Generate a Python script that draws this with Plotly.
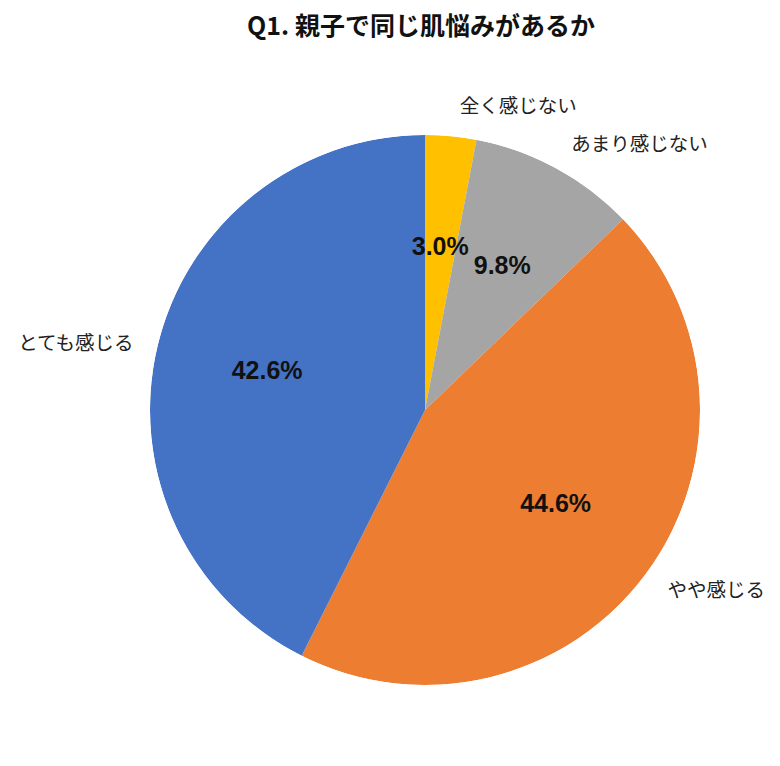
import plotly.graph_objects as go

labels = ["全く感じない", "あまり感じない", "やや感じる", "とても感じる"]
values = [3.0, 9.8, 44.6, 42.6]
colors = ["#FFC000", "#A5A5A5", "#ED7D31", "#4472C4"]
pct_text = [f"{v:.1f}%" for v in values]

W, H = 780, 766
OFF = 8  # page body margin
cx, cy, r = 425 - OFF, 410 - OFF, 275
rl = 292

def dom(rad):
    return dict(x=[(cx - rad) / W, (cx + rad) / W],
                y=[(H - cy - rad) / H, (H - cy + rad) / H])

# angular mid-points and widths of slices (degrees, clockwise from top), derived from values
total = sum(values)
widths = [v / total * 360 for v in values]
mids = []
acc = 0.0
for w in widths:
    mids.append(acc + w / 2)
    acc += w

fig = go.Figure()
# pie slices drawn as polar wedges
fig.add_trace(go.Barpolar(
    r=[1] * len(values), theta=mids, width=widths, base=0,
    marker=dict(color=colors, line=dict(width=0)),
    text=labels, hovertemplate="%{text}<extra></extra>", showlegend=False,
))
# percentage labels
fig.add_trace(go.Scatterpolar(
    r=[0.59] * len(values), theta=mids, mode="text", text=pct_text,
    textposition="middle center",
    textfont=dict(size=25, color="#111111", family="Liberation Sans, Arial, sans-serif", weight="bold"),
    showlegend=False, hoverinfo="skip",
))
# transparent pie for outside category names
fig.add_trace(go.Pie(
    labels=labels, values=values, sort=False, direction="clockwise", rotation=0,
    text=labels, textinfo="text", textposition="outside",
    marker=dict(colors=["rgba(0,0,0,0)"] * 4, line=dict(width=0)),
    outsidetextfont=dict(size=19.5, color="#222222", family="Noto Sans CJK JP"),
    domain=dom(rl), showlegend=False, hoverinfo="skip",
))

fig.update_layout(
    width=W, height=H,
    margin=dict(l=0, r=0, t=0, b=0),
    paper_bgcolor="white", plot_bgcolor="white",
    polar=dict(
        domain=dom(r), bgcolor="rgba(0,0,0,0)", bargap=0,
        radialaxis=dict(range=[0, 1], visible=False, showgrid=False),
        angularaxis=dict(direction="clockwise", rotation=90, visible=False, showgrid=False),
    ),
    title=dict(text="<b>Q1. 親子で同じ肌悩みがあるか</b>", x=(421 - OFF) / W, xanchor="center",
               y=1 - (26 - OFF) / H, yanchor="middle",
               font=dict(size=25, color="#111111", family="Noto Sans CJK JP")),
)

fig.write_html("out.html")
